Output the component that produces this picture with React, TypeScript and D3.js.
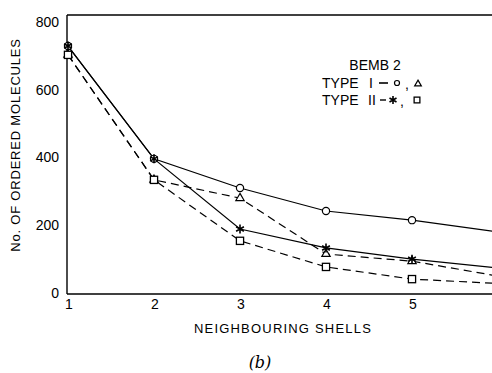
import React from "react";
import * as d3 from "d3";

const shells = [1, 2, 3, 4, 5, 6];
const typeICircle = [729, 396, 310, 242, 215, 180];
const typeITriangle = [703, 334, 280, 115, 94, 50];
const typeIIStar = [729, 396, 189, 133, 100, 74];
const typeIISquare = [703, 334, 154, 77, 41, 28];
const yTicks = [0, 200, 400, 600, 800];
const xTicks = [1, 2, 3, 4, 5];

const W = 492;
const H = 373;
const FONT = "'Liberation Sans', 'DejaVu Sans', sans-serif";

export default function App() {
  const x = d3.scaleLinear().domain([1, 6]).range([68, 498]);
  const y = d3.scaleLinear().domain([0, 800]).range([293, 22]);
  const line = d3
    .line<number>()
    .x((_, i) => x(shells[i]))
    .y((d) => y(d));

  const series = [
    { vals: typeICircle, dash: undefined, marker: "circle" },
    { vals: typeITriangle, dash: "8,5", marker: "triangle" },
    { vals: typeIIStar, dash: undefined, marker: "star" },
    { vals: typeIISquare, dash: "8,5", marker: "square" },
  ];

  const marker = (kind: string, cx: number, cy: number, key: string, s = 1) => {
    if (kind === "circle")
      return <circle key={key} cx={cx} cy={cy} r={3.6 * s} fill="#fff" stroke="#000" strokeWidth={1.2} />;
    if (kind === "square")
      return <rect key={key} x={cx - 3.6 * s} y={cy - 3.6 * s} width={7.2 * s} height={7.2 * s} fill="#fff" stroke="#000" strokeWidth={1.3} />;
    if (kind === "triangle") {
      const tri = d3.symbol().type(d3.symbolTriangle).size(30 * s * s)();
      return <path key={key} d={tri || ""} transform={`translate(${cx},${cy})`} fill="#fff" stroke="#000" strokeWidth={1.2} />;
    }
    const r = 4.5 * s;
    const arms = [90, 30, 150].map((a) => {
      const rad = (a * Math.PI) / 180;
      return `M${cx - r * Math.cos(rad)},${cy - r * Math.sin(rad)}L${cx + r * Math.cos(rad)},${cy + r * Math.sin(rad)}`;
    });
    return <path key={key} d={arms.join("")} stroke="#000" strokeWidth={1.6} fill="none" />;
  };

  const txt = (s: string, tx: number, ty: number, key: string) => (
    <text key={key} x={tx} y={ty} dy="0.35em" fontFamily={FONT} fontSize={14} fill="#000">
      {s}
    </text>
  );

  return (
    <svg width={W} height={H} style={{ position: "absolute", left: 0, top: 0, background: "#fff" }}>
      <rect width={W} height={H} fill="#fff" />
      {/* axes frame */}
      <line x1={67} y1={15} x2={W} y2={15} stroke="#000" strokeWidth={1.4} />
      <line x1={67} y1={15} x2={67} y2={294} stroke="#000" strokeWidth={1.4} />
      <line x1={67} y1={294} x2={W} y2={294} stroke="#000" strokeWidth={1.6} />
      {/* y tick labels */}
      {yTicks.map((t) => (
        <text key={t} x={59} y={y(t)} dy="0.35em" textAnchor="end" fontFamily={FONT} fontSize={14} fill="#000">
          {t}
        </text>
      ))}
      {/* x tick labels */}
      {xTicks.map((t) => (
        <text key={t} x={x(t) + 1} y={304} dy="0.35em" textAnchor="middle" fontFamily={FONT} fontSize={14} fill="#000">
          {t}
        </text>
      ))}
      {/* lines */}
      {series.map((s, i) => (
        <path key={i} d={line(s.vals) || ""} fill="none" stroke="#000" strokeWidth={1.2} strokeDasharray={s.dash} />
      ))}
      {/* markers */}
      {series.map((s, i) =>
        s.vals.slice(0, 5).map((v, j) => marker(s.marker, x(shells[j]), y(v), `${i}-${j}`))
      )}
      {/* legend */}
      <text x={375} y={65} dy="0.35em" textAnchor="middle" fontFamily={FONT} fontSize={14} fill="#000">
        BEMB 2
      </text>
      {txt("TYPE", 322, 83, "t1")}
      {txt("I", 369, 83, "t1i")}
      <line x1={379} y1={83} x2={388} y2={83} stroke="#000" strokeWidth={1.6} />
      {marker("circle", 397, 83, "lc", 0.7)}
      {txt(",", 405, 84, "t1c")}
      {marker("triangle", 418, 84, "lt", 0.8)}
      {txt("TYPE", 322, 100, "t2")}
      {txt("II", 368, 100, "t2i")}
      <line x1={380} y1={100} x2={386} y2={100} stroke="#000" strokeWidth={1.4} />
      {marker("star", 393, 100, "ls", 0.9)}
      {txt(",", 400, 101, "t2c")}
      {marker("square", 417, 100, "lq", 0.8)}
      {/* axis titles */}
      <text
        transform={`translate(15,145) rotate(-90)`}
        textAnchor="middle"
        dy="0.35em"
        fontFamily={FONT}
        fontSize={13}
        letterSpacing={0.8}
        fill="#000"
      >
        No. OF ORDERED MOLECULES
      </text>
      <text x={283} y={328} dy="0.35em" textAnchor="middle" fontFamily={FONT} fontSize={13} letterSpacing={1.2} fill="#000">
        NEIGHBOURING SHELLS
      </text>
      <text x={260} y={362} dy="0.35em" textAnchor="middle" fontFamily="'DejaVu Serif', serif" fontStyle="italic" fontSize={16} fill="#000">
        (b)
      </text>
    </svg>
  );
}
